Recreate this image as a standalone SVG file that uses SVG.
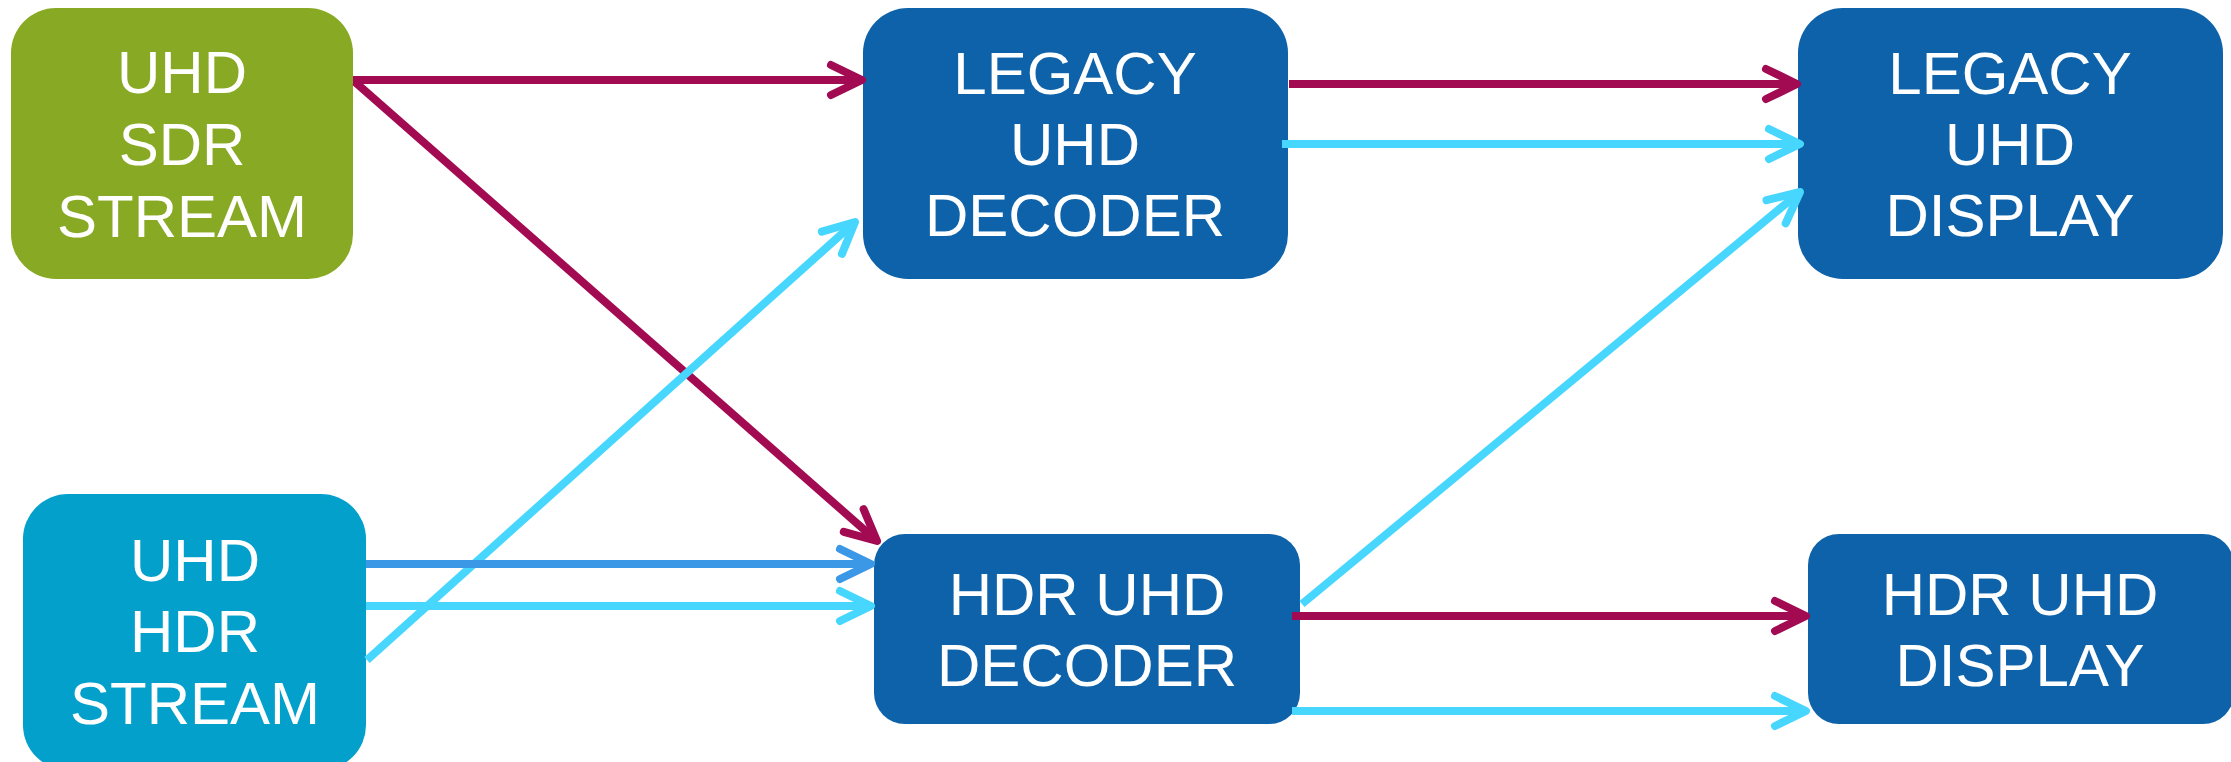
<svg xmlns="http://www.w3.org/2000/svg" width="2231" height="762" viewBox="0 0 2231 762">
<style>
.lbl{font-family:"Liberation Sans",Arial,sans-serif;font-size:60px;fill:#ffffff;text-anchor:middle}
.c{fill:none;stroke-width:8}
.red{stroke:#a20a52}
.cyan{stroke:#46d6fe}
.blue{stroke:#3a98e6}
</style>
<defs>
<marker id="mr" markerUnits="userSpaceOnUse" markerWidth="60" markerHeight="60" refX="0" refY="0" viewBox="-40 -30 50 60" orient="auto" overflow="visible"><path d="M-31,-15 L0,0 L-31,15" fill="none" stroke="#a20a52" stroke-width="8" stroke-linecap="round" stroke-linejoin="round"/></marker>
<marker id="mc" markerUnits="userSpaceOnUse" markerWidth="60" markerHeight="60" refX="0" refY="0" viewBox="-40 -30 50 60" orient="auto" overflow="visible"><path d="M-31,-15 L0,0 L-31,15" fill="none" stroke="#46d6fe" stroke-width="8" stroke-linecap="round" stroke-linejoin="round"/></marker>
<marker id="mb" markerUnits="userSpaceOnUse" markerWidth="60" markerHeight="60" refX="0" refY="0" viewBox="-40 -30 50 60" orient="auto" overflow="visible"><path d="M-31,-15 L0,0 L-31,15" fill="none" stroke="#3a98e6" stroke-width="8" stroke-linecap="round" stroke-linejoin="round"/></marker>
</defs>
<rect width="2231" height="762" fill="#ffffff"/>
<g id="sdr-stream">
<rect x="11" y="8" width="342" height="271" rx="45" fill="#88a924"/>
<text class="lbl" x="182" y="93">UHD</text>
<text class="lbl" x="182" y="165">SDR</text>
<text class="lbl" x="182" y="237">STREAM</text>
</g>
<g id="hdr-stream">
<rect x="23" y="494" width="343" height="276" rx="45" fill="#02a0cb"/>
<text class="lbl" x="195" y="581">UHD</text>
<text class="lbl" x="195" y="652">HDR</text>
<text class="lbl" x="195" y="724">STREAM</text>
</g>
<g id="legacy-decoder">
<rect x="863" y="8" width="425" height="271" rx="45" fill="#0d62a9"/>
<text class="lbl" x="1075" y="94">LEGACY</text>
<text class="lbl" x="1075" y="165">UHD</text>
<text class="lbl" x="1075" y="236">DECODER</text>
</g>
<g id="legacy-display">
<rect x="1798" y="8" width="425" height="271" rx="45" fill="#0d62a9"/>
<text class="lbl" x="2010" y="94">LEGACY</text>
<text class="lbl" x="2010" y="165">UHD</text>
<text class="lbl" x="2010" y="236">DISPLAY</text>
</g>
<g id="hdr-decoder">
<rect x="874" y="534" width="426" height="190" rx="31" fill="#0d62a9"/>
<text class="lbl" x="1087" y="615">HDR UHD</text>
<text class="lbl" x="1087" y="686">DECODER</text>
</g>
<g id="hdr-display">
<rect x="1808" y="534" width="426" height="190" rx="31" fill="#0d62a9"/>
<text class="lbl" x="2020" y="615">HDR UHD</text>
<text class="lbl" x="2020" y="686">DISPLAY</text>
</g>
<g id="connectors">
<path class="c red" d="M353,80 L862,80" marker-end="url(#mr)"/>
<path class="c red" d="M355,82 L877,541" marker-end="url(#mr)"/>
<path class="c cyan" d="M367,660 L855,222" marker-end="url(#mc)"/>
<path class="c blue" d="M366,564 L871,564" marker-end="url(#mb)"/>
<path class="c cyan" d="M366,606 L871,606" marker-end="url(#mc)"/>
<path class="c red" d="M1289,84 L1797,84" marker-end="url(#mr)"/>
<path class="c cyan" d="M1282,144 L1800,144" marker-end="url(#mc)"/>
<path class="c cyan" d="M1302,604 L1800,192" marker-end="url(#mc)"/>
<path class="c red" d="M1292,616 L1806,616" marker-end="url(#mr)"/>
<path class="c cyan" d="M1292,711 L1806,711" marker-end="url(#mc)"/>
</g>
</svg>
